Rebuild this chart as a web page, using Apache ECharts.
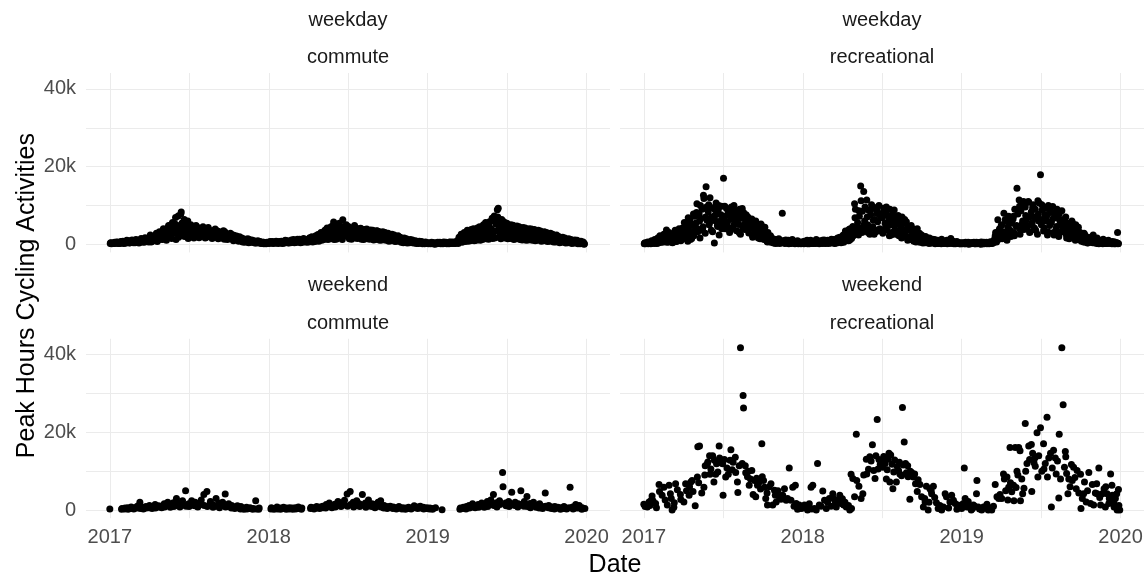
<!DOCTYPE html>
<html>
<head>
<meta charset="utf-8">
<script src="https://cdn.jsdelivr.net/npm/echarts@6/dist/echarts.min.js"></script>
<style>
  html, body { margin: 0; padding: 0; background: #ffffff; }
  #chart { width: 1148px; height: 578px; }
</style>
</head>
<body>
<div id="chart"></div>
<script>
// Peak-hour cycling activity counts (thousands), 2017-2019.

// Weekday samples (Mon, Wed, Fri), weeks starting Mon 2017-01-02.
const weekdayCommute = [
  // 2017
  0.2,0.3,0.2, 0.3,0.2,0.4, 0.3,0.5,0.2, 0.4,0.3,0.5,
  0.4,0.6,0.3, 0.5,0.4,0.7, 0.6,0.3,0.8, 0.5,0.9,0.4,
  0.7,0.5,1.0, 0.6,0.9,0.5, 0.8,1.2,0.6, 1.0,0.7,1.3, 0.9,1.4,0.6,
  1.1,1.6,0.8, 1.4,0.9,2.0, 1.2,2.2,1.0, 1.8,2.6,1.3,
  2.4,1.5,3.2, 2.0,3.8,2.7, 4.4,1.8,3.5, 5.0,2.9,4.2,
  3.6,5.2,1.2, 4.8,7.3,2.6, 3.9,8.3,5.5, 2.2,6.4,4.1, 5.6,3.2,1.5,
  4.5,2.8,3.9, 1.9,4.2,3.1, 3.6,2.4,4.4, 2.9,3.8,2.2,
  3.4,4.1,2.1, 2.8,3.7,1.8, 4.0,2.6,3.2, 1.9,3.5,2.7,
  3.1,2.2,3.6, 2.5,1.7,3.3, 2.0,3.0,1.6, 2.7,1.9,3.2, 1.5,2.4,2.0,
  2.2,1.4,2.6, 1.8,1.2,2.3, 1.3,2.0,1.1, 1.7,1.0,1.5,
  1.2,0.8,1.4, 0.9,1.1,0.7, 1.0,0.6,1.2, 0.8,0.5,0.9,
  0.6,0.8,0.4, 0.7,0.5,0.6, 0.4,0.6,0.3, 0.3,0.5,0.2, 0.2,0.3,0.4,
  // 2018
  0.3,0.5,0.4, 0.5,0.3,0.6, 0.4,0.6,0.3, 0.6,0.4,0.5,
  0.5,0.7,0.3, 0.6,0.4,0.8, 0.5,0.7,0.4, 0.7,0.5,0.9,
  0.6,0.9,0.5, 0.8,0.6,1.0, 0.7,1.1,0.6, 0.9,0.7,1.2, 0.8,1.0,0.7,
  1.0,1.4,0.8, 1.2,0.9,1.6, 1.1,1.8,0.9, 1.5,2.1,1.2,
  1.8,2.6,1.4, 2.3,3.3,1.6, 2.8,1.9,3.6, 2.1,3.9,2.5,
  3.2,5.7,2.0, 3.8,2.6,4.3, 1.6,3.5,4.6, 2.8,6.3,3.1, 4.0,2.2,3.7,
  3.4,2.0,4.1, 2.6,3.8,1.8, 3.2,4.4,2.4, 3.6,2.3,3.0,
  2.7,3.9,1.9, 3.3,2.4,3.6, 2.1,3.1,2.8, 3.5,1.7,2.9,
  2.5,3.2,1.6, 2.9,2.0,3.4, 1.8,2.6,2.2, 3.0,1.5,2.4, 2.1,2.8,1.6,
  2.2,1.4,2.6, 1.7,2.3,1.2, 1.9,1.3,2.0, 1.5,1.1,1.8,
  1.3,0.9,1.5, 1.0,1.2,0.7, 1.1,0.8,0.9, 0.6,1.0,0.7, 0.8,0.5,0.7,
  0.6,0.4,0.7, 0.5,0.3,0.6, 0.4,0.5,0.3, 0.2,0.4,0.3,
  // 2019
  0.2,0.3,0.2, 0.3,0.2,0.4, 0.2,0.3,0.1, 0.3,0.2,0.3,
  0.2,0.4,0.3, 0.3,0.2,0.4, 0.4,0.3,0.2, 0.3,0.5,0.2,
  0.4,0.3,0.5, 0.3,0.4,0.6, 0.5,1.2,0.6, 1.5,0.8,2.0, 1.2,2.4,0.9,
  1.8,2.8,1.1, 2.2,3.2,1.4, 2.6,1.6,3.5, 2.0,3.0,1.3,
  2.4,3.8,1.7, 3.1,4.3,2.2, 5.0,2.8,3.6, 1.9,4.6,3.3,
  4.0,6.7,2.5, 7.3,3.4,5.2, 8.9,9.3,4.1, 2.8,5.6,3.6, 4.8,2.2,3.9,
  3.6,5.0,2.6, 4.2,3.1,4.6, 2.4,3.8,4.4, 3.0,2.1,3.7,
  3.3,4.0,2.0, 2.7,3.6,1.8, 3.9,2.5,3.2, 2.2,3.5,1.7, 2.9,3.4,2.3,
  3.3,2.1,2.8, 1.6,3.0,2.4, 2.6,1.5,2.9, 2.0,2.5,1.4,
  2.4,1.6,2.1, 1.3,2.2,1.7, 1.8,1.1,2.0, 1.4,1.6,0.9,
  1.3,1.0,1.5, 0.8,1.2,0.7, 1.0,0.6,1.1, 0.7,0.9,0.5,
  0.8,0.5,0.9, 0.6,0.4,0.7, 0.5,0.3,0.6, 0.3,0.4,0.2, 0.2,0.3,0.1
];

// Weekday samples (Tue, Thu), same weeks.
const weekdayCommuteMid = [
  // 2017
  0.4,0.1, 0.2,0.5, 0.6,0.3, 0.2,0.7,
  0.8,0.2, 0.3,1.0, 0.9,0.4, 1.1,0.6,
  0.4,1.2, 1.0,0.3, 1.5,0.8, 0.5,1.7, 1.1,0.8,
  2.4,0.6, 1.9,1.1, 2.8,0.7, 3.2,1.6,
  1.2,4.0, 3.0,1.0, 4.8,2.2, 1.5,5.6,
  2.8,6.9, 4.2,1.8, 7.8,3.4, 4.6,2.0, 3.8,6.0,
  2.2,5.0, 3.5,1.6, 4.8,2.1, 1.7,4.0,
  2.4,4.5, 1.6,3.0, 4.3,2.0, 3.0,1.5,
  1.8,3.9, 3.4,1.4, 2.8,1.9, 3.5,1.3, 2.6,1.2,
  1.6,2.8, 2.4,0.9, 1.5,2.1, 0.8,1.9,
  1.6,0.6, 0.5,1.3, 1.4,0.4, 0.6,1.1,
  0.9,0.3, 0.3,0.9, 0.7,0.2, 0.5,0.1, 0.1,0.5,
  // 2018
  0.2,0.7, 0.7,0.2, 0.3,0.8, 0.2,0.7,
  0.8,0.2, 0.3,1.0, 0.9,0.3, 0.4,1.1,
  1.2,0.4, 0.5,1.3, 1.3,0.4, 0.5,1.5, 1.2,0.5,
  0.6,1.7, 1.9,0.6, 0.7,2.2, 2.5,0.8,
  3.0,1.0, 1.2,3.6, 4.2,1.2, 1.4,4.5,
  4.8,1.2, 1.3,5.0, 5.4,2.0, 1.2,4.4, 2.6,5.0,
  4.6,1.4, 1.3,4.2, 4.8,1.6, 1.5,4.0,
  4.1,1.3, 1.2,3.8, 3.9,1.4, 1.3,3.7,
  3.6,1.1, 1.2,3.5, 3.3,1.0, 1.1,3.2, 3.0,1.0,
  2.8,0.8, 0.9,2.6, 2.4,0.7, 0.8,2.2,
  1.8,0.5, 0.4,1.6, 1.4,0.3, 0.4,1.2, 1.1,0.3,
  0.9,0.2, 0.2,0.8, 0.7,0.1, 0.1,0.6,
  // 2019
  0.4,0.1, 0.1,0.5, 0.4,0.0, 0.1,0.5,
  0.5,0.1, 0.1,0.6, 0.5,0.1, 0.1,0.6,
  0.6,0.2, 0.2,0.7, 0.2,1.8, 2.6,0.5, 3.0,0.7,
  3.6,0.8, 0.9,3.8, 4.0,0.9, 1.0,4.2,
  4.5,1.0, 1.2,5.0, 5.6,1.4, 1.3,5.8,
  6.0,1.5, 1.6,6.2, 7.0,1.8, 1.4,6.4, 5.8,1.6,
  5.4,1.4, 1.5,5.0, 4.9,1.2, 1.4,4.7,
  4.5,1.2, 1.1,4.3, 4.2,1.0, 1.1,4.0, 3.9,1.0,
  3.8,0.9, 1.0,3.6, 3.4,0.8, 0.9,3.2,
  3.0,0.7, 0.8,2.8, 2.6,0.6, 0.6,2.4,
  2.0,0.4, 0.5,1.8, 1.6,0.3, 0.4,1.4,
  1.2,0.2, 0.3,1.1, 1.0,0.1, 0.1,0.8, 0.6,0.0
];

const weekdayRecreational = [
  // 2017
  0.1,0.3,0.2, 0.4,0.1,0.5, 0.2,0.6,0.3, 0.8,0.2,0.5,
  0.4,1.0,0.3, 0.7,1.4,0.5, 1.2,0.6,2.0, 0.9,3.7,1.1,
  0.6,1.6,2.4, 1.0,0.4,1.8, 2.8,1.2,0.7, 3.3,1.5,2.2, 0.9,2.6,4.2,
  1.8,3.6,5.0, 2.4,0.8,4.4, 6.3,3.0,1.5, 4.8,2.2,7.2,
  5.5,10.4,3.2, 7.8,1.6,6.6, 9.0,4.5,11.8, 2.8,14.8,6.2,
  8.4,5.0,12.0, 3.6,9.4,6.8, 0.3,7.5,10.6, 4.8,8.9,2.4, 6.0,9.8,5.2,
  17.0,7.2,4.0, 9.2,5.6,8.1, 3.0,6.5,9.6, 4.4,7.8,5.3,
  8.6,3.5,6.9, 5.1,9.0,2.6, 7.4,4.2,8.2, 3.8,6.1,5.5,
  7.0,2.9,5.6, 4.3,6.5,1.8, 5.0,3.2,6.0, 2.4,4.6,3.6, 1.4,5.2,2.2,
  3.8,1.2,4.4, 2.0,0.8,3.0, 1.0,1.8,0.5, 0.9,1.4,0.4,
  0.7,1.2,0.3, 1.0,0.5,0.8, 0.4,8.0,0.6, 0.9,0.3,0.7,
  0.5,1.0,0.2, 0.8,0.4,1.2, 0.3,0.6,0.2, 0.5,0.9,0.1, 0.3,0.2,0.6,
  // 2018
  0.2,0.5,0.8, 0.3,0.6,0.1, 0.7,0.4,1.0, 0.2,0.5,0.3,
  0.6,0.2,0.9, 0.4,0.7,0.3, 0.8,0.5,0.2, 1.1,0.4,0.6,
  0.3,0.8,0.5, 1.0,0.4,0.7, 0.6,1.2,0.3, 0.9,0.5,1.4, 0.7,1.1,0.4,
  1.2,2.4,0.8, 3.4,1.6,2.0, 0.9,2.8,4.0, 1.5,3.6,2.2,
  10.4,9.0,3.0, 5.6,2.4,7.2, 15.0,4.2,8.5, 13.6,6.0,3.4,
  11.4,5.0,8.8, 2.6,7.6,10.2, 4.5,9.5,6.4, 3.2,8.0,5.8, 10.0,4.0,7.0,
  6.8,2.8,9.3, 5.4,8.4,3.6, 7.2,4.8,9.0, 2.4,6.2,5.0,
  8.8,3.8,6.5, 5.2,7.4,2.2, 6.0,4.0,7.0, 2.8,5.4,3.4,
  5.8,2.0,4.5, 3.6,1.4,4.8, 2.6,3.9,1.2, 3.2,2.0,4.0, 1.0,2.8,1.8,
  2.4,0.8,1.8, 1.4,2.0,0.6, 1.2,0.5,1.6, 0.9,0.4,1.3,
  0.8,1.2,0.3, 0.6,1.0,0.2, 0.9,0.4,1.3, 0.5,0.2,0.7, 0.3,1.0,0.4,
  0.6,0.2,1.5, 0.4,0.8,0.1, 0.5,0.3,0.7, 0.2,0.4,0.1,
  // 2019
  0.1,0.3,0.2, 0.4,0.1,0.3, 0.2,0.5,0.1, 0.3,0.2,0.4,
  0.2,0.4,0.1, 0.5,0.3,0.2, 0.4,0.1,0.6, 0.2,0.3,0.1,
  0.3,0.5,0.2, 0.4,0.2,0.6, 0.3,0.5,0.4, 1.5,3.0,0.6, 6.3,2.2,4.0,
  1.8,5.0,3.2, 8.0,2.4,6.0, 1.0,4.4,7.2, 3.6,2.0,5.4,
  6.5,3.0,9.0, 4.6,14.4,7.8, 11.4,2.6,8.6, 5.2,10.0,3.8,
  9.6,6.2,4.0, 11.0,7.0,3.2, 8.4,5.6,10.2, 4.2,9.0,6.6, 2.6,7.8,10.6,
  17.9,5.0,8.8, 3.4,9.4,6.0, 7.2,2.4,10.0, 4.8,8.2,5.6,
  9.7,3.0,6.8, 8.0,4.6,7.4, 2.0,6.2,5.0, 8.6,3.6,6.4, 4.2,7.0,1.6,
  5.4,2.6,4.6, 3.2,6.0,1.8, 4.0,2.4,5.0, 1.2,3.6,2.0,
  3.0,1.0,2.4, 1.6,2.8,0.6, 2.0,1.2,0.4, 1.4,0.8,1.8,
  0.8,2.4,0.4, 1.2,0.6,1.6, 0.3,1.0,0.5, 0.9,0.2,1.3,
  0.4,0.8,0.2, 0.6,1.0,0.3, 0.5,0.2,0.7, 0.3,0.6,0.1, 0.4,3.0,0.2
];

const weekdayRecreationalMid = [
  // 2017
  0.3,0.1, 0.6,0.2, 0.1,0.9, 0.4,1.2,
  0.2,1.6, 2.2,0.6, 0.8,2.6, 1.5,0.5,
  3.0,1.1, 0.5,2.0, 3.6,0.8, 1.9,4.0, 2.8,1.3,
  5.6,2.0, 3.2,6.8, 1.2,5.2, 7.8,3.4,
  8.2,4.0, 6.0,10.0, 3.6,12.6, 7.0,9.6,
  10.2,5.6, 7.0,3.2, 9.0,6.0, 4.6,10.0, 7.6,4.0,
  6.2,9.8, 4.6,7.6, 8.8,3.8, 6.8,10.0,
  5.6,8.4, 3.0,6.6, 9.2,4.8, 5.4,7.6,
  4.2,6.4, 6.2,2.4, 3.8,5.4, 4.4,1.6, 3.0,4.8,
  1.6,3.4, 2.6,0.6, 0.7,2.2, 1.2,0.3,
  0.2,1.0, 1.4,0.2, 0.6,0.9, 0.2,1.1,
  0.7,0.1, 0.2,0.9, 0.8,0.1, 0.2,0.7, 0.4,0.1,
  // 2018
  0.6,0.1, 0.2,1.0, 0.1,0.7, 0.8,0.2,
  0.3,1.2, 0.9,0.1, 0.3,1.0, 0.6,0.2,
  1.0,0.2, 0.3,1.3, 1.1,0.2, 0.3,1.6, 1.8,0.6,
  2.0,0.5, 1.0,3.0, 3.8,1.1, 1.8,4.6,
  6.8,3.6, 4.4,8.6, 11.2,3.0, 5.0,9.6,
  7.0,3.0, 4.0,9.0, 6.2,2.6, 3.6,8.6, 7.6,3.4,
  8.0,3.6, 4.2,9.6, 6.0,2.2, 3.0,7.8,
  7.0,2.6, 3.2,6.0, 5.0,1.6, 2.0,6.4,
  4.0,1.0, 1.2,3.8, 3.0,0.8, 0.6,2.4, 2.2,0.5,
  1.6,0.3, 0.4,1.8, 1.0,0.2, 0.3,0.9,
  0.7,0.1, 0.2,0.9, 0.6,0.1, 0.2,0.8, 0.5,0.1,
  0.3,0.9, 0.7,0.2, 0.1,0.5, 0.4,0.1,
  // 2019
  0.4,0.1, 0.1,0.5, 0.3,0.0, 0.1,0.4,
  0.5,0.1, 0.1,0.4, 0.3,0.0, 0.1,0.5,
  0.4,0.1, 0.1,0.6, 0.2,0.8, 2.2,0.7, 1.2,3.6,
  4.8,1.4, 2.6,6.4, 3.4,5.6, 6.8,2.2,
  7.2,2.2, 4.8,8.8, 9.8,3.6, 6.0,11.0,
  7.4,4.8, 10.8,3.0, 5.0,9.4, 7.0,3.6, 11.2,6.0,
  6.4,10.2, 4.2,7.6, 9.2,3.2, 5.8,8.4,
  6.6,2.4, 4.0,9.0, 7.8,3.0, 3.4,6.0, 5.2,2.6,
  4.0,1.4, 2.0,5.6, 3.0,1.0, 1.6,4.4,
  2.2,0.8, 0.6,2.6, 1.4,0.3, 0.5,1.6,
  0.4,1.4, 1.0,0.2, 0.1,0.8, 0.6,0.1,
  0.9,0.2, 0.2,0.6, 0.4,0.1, 0.1,0.5, 0.3,0.1
];

// Weekend samples: Sat, Sun pairs, weeks starting Sat 2016-12-31 (null = no record).
const weekendCommute = [
  // 2017
  null,0.3, null,null, null,null, null,null,
  0.2,0.4, 0.3,0.5, 0.6,0.2, 0.4,0.8, 0.3,0.6,
  0.5,1.0, 2.0,0.4, 0.7,0.3, 0.9,0.5,
  0.6,1.2, 0.4,0.9, 1.4,0.5, 0.8,1.1,
  1.0,0.6, 1.6,0.8, 1.2,2.0, 0.7,1.5, 1.9,0.9,
  3.0,1.2, 1.8,0.8, 2.4,1.4, 5.0,1.0,
  1.6,0.9, 2.4,1.3, 1.1,2.0, 0.8,1.7, 1.4,2.6,
  4.0,1.2, 4.8,0.9, 1.5,2.2, 0.7,1.3,
  3.0,1.0, 1.8,0.6, 1.2,2.0, 4.1,0.8,
  1.0,1.6, 0.5,1.2, 0.8,0.4, 1.1,0.6, 0.3,0.9,
  0.5,0.2, 0.7,0.3, 0.4,0.6, 0.2,0.4,
  2.4,0.3, 0.2,0.5, null,null, null,null, null,null,
  // 2018
  0.3,0.6, 0.2,0.4, 0.8,0.3, 0.5,0.2,
  0.4,0.7, 0.2,0.5, 0.3,0.6, 0.5,0.2,
  0.6,0.3, 0.8,0.4, 0.2,0.5, null,null,
  null,null, 0.4,0.7, 0.6,0.3, 0.9,0.5, 0.4,0.8,
  1.0,0.6, 0.5,1.4, 0.9,1.8, 0.6,1.1,
  1.5,0.8, 2.2,1.2, 0.9,1.8, 1.3,2.5, 4.1,1.0,
  4.8,1.4, 2.0,0.8, 1.2,2.4, 1.6,0.9,
  4.0,1.3, 1.8,0.7, 2.6,1.1, 0.9,1.6,
  1.4,0.6, 1.0,2.0, 2.4,0.8, 0.5,1.2, 0.9,0.4,
  0.7,1.0, 0.4,0.8, 0.6,0.3, 0.9,0.5,
  0.3,0.6, 0.5,0.2, 0.4,0.7, 0.3,0.5,
  1.1,0.6, 0.8,0.4, 1.0,0.5, 0.7,0.3, 0.4,0.6,
  // 2019
  0.3,0.5, 0.2,0.4, 0.6,null, null,null,
  null,0.1, null,null, null,null, null,null,
  null,null, null,null, 0.2,0.5, 0.4,0.7, 0.3,0.9,
  1.2,0.5, 0.8,1.6, 0.6,1.0, 1.4,0.7,
  1.0,1.8, 0.7,1.3, 2.2,0.9, 1.5,2.6,
  4.0,1.2, 1.9,0.8, 2.4,1.4, 9.7,6.0, 1.8,1.1,
  2.2,0.9, 4.6,1.5, 1.2,2.0, 0.8,1.6,
  5.0,1.4, 1.0,2.2, 3.5,0.9, 1.7,0.6,
  1.3,2.0, 0.7,1.1, 0.5,1.6, 0.9,0.4, 4.4,1.0,
  0.6,1.2, 0.4,0.8, 0.3,0.9, 0.5,0.7,
  0.2,0.6, 0.4,0.9, 0.3,0.5, 0.6,5.9,
  0.8,0.3, 1.4,0.5, 0.5,1.2, 0.2,0.6, 0.4,null
];

// Weekend recreational: [days since 2017-01-01, thousands]
const weekendRecreational = [
  [0,1.5],[3,0.9],[8,0.8],[12,2.1],[14,1.2],[17,2.5],[19,3.6],[21,2.4],[27,1.7],[29,0.6],
  [35,6.6],[36,4.8],[42,3.8],[46,5.9],[49,2.6],[54,1.3],[58,6.4],[61,4.2],[63,3.0],[65,0],
  [69,0.7],[70,1.9],[73,6.8],[77,5.2],[84,4.0],[85,2.7],[92,2.1],[96,6.8],[98,5.0],[104,3.8],
  [105,6.0],[108,7.2],[111,7.6],[113,4.8],[118,1.1],[123,8.5],[124,16.3],[126,7.0],[128,16.5],[133,4.4],
  [138,5.9],[140,9.0],[141,11.4],[146,11.9],[147,12.4],[151,14.0],[152,9.2],[154,10.6],[158,14.0],[161,7.2],
  [162,12.8],[165,9.2],[167,11.9],[170,9.8],[173,16.5],[174,13.4],[177,12.2],[181,11.9],[182,3.8],[185,13.0],
  [188,8.5],[191,10.8],[194,9.2],[198,12.8],[200,15.5],[203,10.4],[205,12.3],[210,13.6],[211,9.7],[215,7.2],
  [216,4.5],[219,11.4],[222,41.8],[226,12.0],[228,29.5],[229,26.3],[233,11.4],[234,9.6],[238,8.6],[240,10.0],
  [242,6.4],[245,8.0],[248,10.2],[251,4.0],[254,7.6],[257,3.4],[259,8.2],[261,6.4],[265,7.2],[268,5.4],
  [271,17.1],[272,8.6],[275,7.6],[277,5.9],[280,3.0],[283,4.4],[284,1.3],[288,6.0],[292,6.8],[296,1.3],
  [300,5.1],[302,3.8],[304,2.1],[308,5.0],[311,3.4],[315,2.8],[319,3.8],[323,5.5],[327,2.5],[330,3.0],
  [334,10.8],[338,2.5],[342,5.9],[345,1.0],[348,6.4],[350,1.7],[353,0.2],[357,1.3],[361,0.4],[365,0.5],
  [369,1.3],[372,0.8],[376,0],[380,1.6],[384,5.9],[386,0.3],[388,6.4],[392,0.4],[396,0],[399,12.0],
  [403,1.3],[407,1.0],[411,4.9],[415,2.5],[419,0.4],[422,2.0],[426,3.0],[430,1.0],[434,4.2],[436,3.0],
  [440,2.1],[442,0.8],[447,2.4],[450,3.8],[453,1.7],[456,2.9],[459,1.3],[462,2.0],[465,0.8],[470,1.2],
  [473,0],[476,9.2],[477,0.4],[480,8.1],[484,3.4],[488,19.5],[489,7.6],[494,6.1],[499,3.0],[503,4.2],
  [505,9.0],[511,13.1],[512,9.3],[516,10.5],[519,13.7],[522,12.6],[525,16.8],[528,10.2],[531,8.1],[533,14.0],
  [536,23.3],[538,10.6],[540,13.0],[543,11.8],[546,12.3],[549,11.0],[551,13.8],[553,12.7],[554,12.0],[557,8.0],
  [559,10.4],[561,13.1],[563,14.6],[565,7.2],[567,14.2],[570,11.8],[572,5.5],[574,9.8],[576,12.9],[580,7.2],
  [582,11.2],[585,10.2],[587,12.3],[588,9.3],[592,8.8],[594,26.4],[596,11.6],[598,17.5],[601,12.0],[603,9.6],
  [606,11.4],[607,8.6],[611,2.8],[612,10.0],[615,9.7],[619,8.5],[622,9.3],[624,6.8],[628,4.8],[630,7.8],
  [634,6.6],[638,3.4],[642,0.8],[645,3.0],[646,2.1],[649,6.1],[653,0],[655,2.0],[657,5.5],[660,5.0],
  [661,4.2],[665,6.1],[668,3.2],[672,1.9],[676,0.4],[680,1.2],[684,0],[688,0.8],[692,4.2],[695,3.4],
  [700,0.5],[703,2.1],[707,3.8],[711,2.5],[715,1.7],[719,0.2],[721,1.3],[726,0.8],[730,0.4],[733,1.6],
  [736,10.8],[738,3.0],[742,0.8],[745,2.2],[747,0.8],[752,0],[755,0.4],[757,1.3],[760,1.0],[764,4.2],
  [765,7.6],[768,0.8],[771,0.3],[776,0],[780,0.8],[784,0.8],[788,1.5],[791,0],[795,0.5],[799,0],
  [803,1.0],[807,6.6],[811,3.4],[815,3.0],[818,4.0],[822,3.0],[826,9.3],[828,8.0],[831,5.0],[834,8.5],
  [836,2.6],[838,5.9],[841,16.1],[842,7.0],[845,4.7],[849,6.4],[850,2.4],[853,16.1],[855,5.8],[857,10.0],
  [859,9.0],[861,16.1],[864,15.3],[865,2.4],[868,8.0],[870,4.2],[873,5.6],[876,22.3],[877,10.0],[880,12.0],
  [884,16.5],[886,13.0],[890,16.9],[891,4.8],[893,14.6],[896,12.2],[898,13.4],[899,11.3],[903,19.9],[905,8.5],
  [907,14.0],[911,21.2],[914,10.0],[918,17.1],[919,10.6],[922,12.0],[926,23.9],[927,8.5],[930,13.4],[934,14.6],
  [936,0.8],[938,10.8],[941,15.4],[945,13.4],[947,9.3],[950,12.6],[953,3.1],[954,19.5],[957,8.0],[960,41.8],
  [963,27.1],[966,11.0],[968,15.1],[969,13.7],[971,9.4],[974,4.2],[976,8.0],[979,6.0],[982,11.7],[984,7.6],
  [987,11.0],[990,8.4],[993,5.5],[995,10.2],[999,4.4],[1003,9.2],[1004,0.4],[1007,3.0],[1010,4.2],[1012,7.2],
  [1016,2.1],[1019,5.0],[1022,9.7],[1026,1.7],[1030,6.6],[1033,1.3],[1037,4.4],[1040,6.8],[1041,4.2],[1045,10.8],
  [1047,3.2],[1049,1.3],[1053,4.2],[1057,5.5],[1060,0.8],[1061,6.0],[1064,4.2],[1068,1.7],[1069,3.0],[1072,9.3],
  [1075,6.4],[1076,3.8],[1079,2.0],[1080,0.8],[1083,3.0],[1086,4.2],[1087,0],[1090,5.3],[1091,1.2],[1093,0]
];

const rowLabels = ['weekday', 'weekend'];
const colLabels = ['commute', 'recreational'];
const yearTicks = [2017, 2018, 2019, 2020];
const valueTicks = [0, 20, 40];

const DAY = 86400000;
const WEEKDAY_START = Date.UTC(2017, 0, 2);   // Monday
const WEEKEND_START = Date.UTC(2016, 11, 31); // Saturday
const DAY_ZERO = Date.UTC(2017, 0, 1);

function fromWeekGrid(values, start, offsets) {
  const n = offsets.length, out = [];
  values.forEach((v, i) => {
    if (v == null) return;
    out.push([start + (Math.floor(i / n) * 7 + offsets[i % n]) * DAY, v]);
  });
  return out;
}

const panels = [
  fromWeekGrid(weekdayCommute, WEEKDAY_START, [0, 2, 4])
    .concat(fromWeekGrid(weekdayCommuteMid, WEEKDAY_START, [1, 3])),
  fromWeekGrid(weekdayRecreational, WEEKDAY_START, [0, 2, 4])
    .concat(fromWeekGrid(weekdayRecreationalMid, WEEKDAY_START, [1, 3])),
  fromWeekGrid(weekendCommute, WEEKEND_START, [0, 1]),
  weekendRecreational.map(([d, v]) => [DAY_ZERO + d * DAY, v])
];

// Layout of the 2x2 facet grid (pixels)
const COL_X = [86, 620];
const ROW_Y = [73, 338.8];
const PANEL_W = 524;
const PANEL_H = 179.4;

// Shared scales, padded 5% beyond the data range (x in epoch ms)
const xPad = 54.7 * DAY;
const xMin = Date.UTC(2017, 0, 1) - xPad;
const xMax = Date.UTC(2019, 11, 31) + xPad;
const yMin = -2.1, yMax = 44.1;

const xGridValues = [];
yearTicks.forEach((y, i) => {
  xGridValues.push(Date.UTC(y, 0, 1));
  if (i < yearTicks.length - 1) xGridValues.push(Date.UTC(y, 6, 2, 12));
});
const yGridValues = [0, 10, 20, 30, 40];

const FONT = '"Liberation Sans", Arial, sans-serif';
const gridLine = { show: true, lineStyle: { color: '#ebebeb', width: 1 } };

const grids = [], xAxes = [], yAxes = [], series = [], texts = [];
for (let r = 0; r < 2; r++) {
  for (let c = 0; c < 2; c++) {
    const i = r * 2 + c;
    grids.push({ left: COL_X[c], top: ROW_Y[r], width: PANEL_W, height: PANEL_H, containLabel: false });
    xAxes.push({
      type: 'value', gridIndex: i, min: xMin, max: xMax, scale: true,
      axisLine: { show: false },
      axisTick: { show: false, customValues: xGridValues },
      splitLine: gridLine,
      axisLabel: {
        show: r === 1,
        customValues: yearTicks.map(y => Date.UTC(y, 0, 1)),
        formatter: v => String(new Date(v).getUTCFullYear()),
        color: '#4d4d4d', fontSize: 20, fontFamily: FONT, margin: 9,
        hideOverlap: false
      }
    });
    yAxes.push({
      type: 'value', gridIndex: i, min: yMin, max: yMax,
      axisLine: { show: false },
      axisTick: { show: false, customValues: yGridValues },
      splitLine: gridLine,
      axisLabel: {
        show: c === 0,
        customValues: valueTicks,
        formatter: v => (v === 0 ? '0' : v + 'k'),
        color: '#4d4d4d', fontSize: 20, fontFamily: FONT, margin: 10
      }
    });
    series.push({
      type: 'scatter', xAxisIndex: i, yAxisIndex: i,
      data: panels[i], symbol: 'circle', symbolSize: 7,
      itemStyle: { color: '#000000', opacity: 1 }, silent: true
    });
    const cx = COL_X[c] + PANEL_W / 2;
    [[rowLabels[r], -53], [colLabels[c], -15.5]].forEach(([t, dy]) => {
      texts.push({
        type: 'text', x: cx, y: ROW_Y[r] + dy,
        style: {
          text: t, fill: '#1a1a1a', font: '20px ' + FONT,
          align: 'center', verticalAlign: 'middle',
          textAlign: 'center', textVerticalAlign: 'middle'
        }
      });
    });
  }
}

texts.push({
  type: 'text', x: (COL_X[0] + COL_X[1] + PANEL_W) / 2, y: 565,
  style: { text: 'Date', fill: '#000000', font: '25px ' + FONT,
    align: 'center', verticalAlign: 'middle', textAlign: 'center', textVerticalAlign: 'middle' }
});
texts.push({
  type: 'text', x: 27, y: (ROW_Y[0] + ROW_Y[1] + PANEL_H) / 2, rotation: Math.PI / 2,
  style: { text: 'Peak Hours Cycling Activities', fill: '#000000', font: '25px ' + FONT,
    align: 'center', verticalAlign: 'middle', textAlign: 'center', textVerticalAlign: 'middle' }
});

const chart = echarts.init(document.getElementById('chart'), null, { renderer: 'canvas' });
chart.setOption({
  backgroundColor: '#ffffff',
  animation: false,
  grid: grids,
  xAxis: xAxes,
  yAxis: yAxes,
  series: series,
  graphic: texts
});
</script>
</body>
</html>
